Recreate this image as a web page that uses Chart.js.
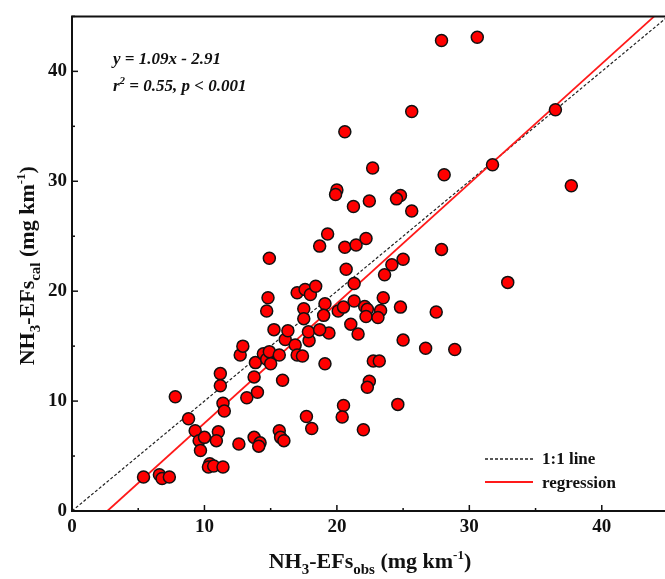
<!DOCTYPE html>
<html>
<head>
<meta charset="utf-8">
<script src="https://cdn.jsdelivr.net/npm/chart.js@4.4.1/dist/chart.umd.min.js"></script>
<style>
  html, body { margin: 0; padding: 0; background: #fff; overflow: hidden; }
  #wrap { position: relative; width: 680px; height: 579px; }
</style>
</head>
<body>
<div id="wrap"><canvas id="c"></canvas></div>
<script>
// ---- data ----
const obsValues = [
  5.4, 6.6, 6.8, 7.35, 7.8, 8.8, 9.3, 9.6, 10.0, 9.7,
  11.05, 10.9, 10.4, 10.3, 10.7, 11.4, 11.2, 11.2, 11.4, 11.5,
  12.6, 12.7, 12.9, 13.2, 13.75, 14.0, 13.85, 13.75, 14.2, 14.1,
  14.45, 14.7, 14.9, 15.0, 14.8, 14.7, 14.9, 15.25, 15.65, 15.9,
  15.65, 15.75, 16.0, 16.1, 16.3, 16.85, 17.0, 17.4, 17.0, 17.6,
  18.0, 18.4, 17.5, 17.5, 17.9, 17.85, 17.7, 18.1, 19.1, 19.0,
  19.1, 19.4, 18.7, 18.7, 19.3, 20.6, 21.45, 22.2, 20.7, 21.3,
  20.0, 19.9, 21.25, 22.45, 20.6, 22.7, 20.1, 20.5, 21.3, 22.1,
  22.3, 22.2, 23.3, 23.5, 23.1, 24.8, 27.5, 21.05, 21.6, 25.0,
  26.7, 28.9, 22.75, 23.2, 22.45, 22.3, 20.5, 20.4, 22.0, 24.6,
  23.6, 24.15, 25.0, 27.9, 27.9, 30.6, 25.65, 36.5, 31.75, 28.1,
  37.7, 24.8, 24.5, 25.65, 32.9
];
const calValues = [
  3.1, 3.3, 2.95, 3.1, 10.4, 8.4, 7.3, 6.4, 6.7, 5.5,
  7.2, 6.4, 4.3, 4.0, 4.1, 4.0, 12.5, 11.4, 9.8, 9.1,
  6.1, 14.2, 15.0, 10.3, 12.2, 10.8, 13.5, 6.7, 6.2, 5.9,
  14.3, 13.8, 14.5, 13.4, 19.4, 18.2, 23.0, 16.5, 14.2, 11.9,
  7.3, 6.7, 6.4, 15.6, 16.4, 15.1, 14.2, 14.1, 19.85, 20.15,
  19.7, 20.45, 18.4, 17.5, 15.5, 16.3, 8.6, 7.5, 18.85, 17.8,
  13.4, 16.2, 16.5, 24.1, 25.2, 24.0, 24.2, 24.8, 22.0, 20.7,
  29.2, 28.8, 27.7, 28.2, 34.5, 31.2, 18.2, 18.55, 19.1, 18.6,
  18.35, 17.7, 18.25, 19.4, 17.6, 18.55, 18.1, 17.0, 16.1, 15.55,
  14.8, 14.7, 13.65, 13.65, 11.8, 11.25, 9.6, 8.55, 7.4, 9.7,
  21.5, 22.4, 22.9, 23.8, 42.8, 43.1, 36.35, 36.5, 31.5, 30.6,
  29.6, 28.7, 28.4, 27.3, 20.8
];
const regSlope = 1.09;
const regIntercept = -2.91;
const axisMin = 0;
const axisMax = 45;
const tickStep = 5;
const labelStep = 10;
const legendLabels = ['1:1 line', 'regression'];
const eqLine1 = 'y = 1.09x - 2.91';

// ---- build datasets ----
const points = obsValues.map((x, i) => ({ x: x, y: calValues[i] }));
const oneToOne = [{ x: axisMin, y: axisMin }, { x: axisMax, y: axisMax }];
const regLine = [
  { x: (axisMin - regIntercept) / regSlope, y: axisMin },
  { x: (axisMax - regIntercept) / regSlope, y: axisMax }
];

const SERIF = '"Liberation Serif", "Times New Roman", serif';
const INK = '#111';

function drawRich(ctx, parts, x, y, align) {
  let total = 0;
  parts.forEach(p => { ctx.font = p.font; p.w = ctx.measureText(p.t).width; total += p.w; });
  let cx = align === 'center' ? x - total / 2 : x;
  parts.forEach(p => {
    ctx.font = p.font;
    ctx.fillText(p.t, cx, y + (p.dy || 0));
    cx += p.w;
  });
}

const decor = {
  id: 'decor',
  afterDraw(chart) {
    const ctx = chart.ctx;
    const a = chart.chartArea;
    const xs = chart.scales.x, ys = chart.scales.y;
    ctx.save();
    // frame
    ctx.strokeStyle = INK;
    ctx.lineWidth = 2;
    ctx.beginPath();
    ctx.moveTo(a.left, a.top); ctx.lineTo(a.right, a.top);
    ctx.lineTo(a.right, a.bottom); ctx.lineTo(a.left, a.bottom);
    ctx.closePath();
    ctx.stroke();
    // inward ticks
    ctx.lineWidth = 1.5;
    for (let v = axisMin; v <= axisMax; v += tickStep) {
      const len = v % labelStep === 0 ? 6 : 3;
      const px = xs.getPixelForValue(v);
      ctx.beginPath(); ctx.moveTo(px, a.bottom); ctx.lineTo(px, a.bottom - len); ctx.stroke();
      const py = ys.getPixelForValue(v);
      ctx.beginPath(); ctx.moveTo(a.left, py); ctx.lineTo(a.left + len, py); ctx.stroke();
    }
    ctx.fillStyle = INK;
    ctx.textBaseline = 'alphabetic';
    ctx.textAlign = 'left';
    // x title
    const mf = 'bold 22px ' + SERIF, sf = 'bold 15px ' + SERIF, pf = 'bold 13px ' + SERIF;
    const cxm = (a.left + a.right) / 2;
    drawRich(ctx, [
      { t: 'NH', font: mf }, { t: '3', font: sf, dy: 6 }, { t: '-EFs', font: mf },
      { t: 'obs', font: sf, dy: 6 }, { t: ' (mg km', font: mf }, { t: '-1', font: pf, dy: -9 },
      { t: ')', font: mf }
    ], cxm, 568, 'center');
    // y title
    ctx.save();
    ctx.translate(34, (a.top + a.bottom) / 2 + 2);
    ctx.rotate(-Math.PI / 2);
    drawRich(ctx, [
      { t: 'NH', font: mf }, { t: '3', font: sf, dy: 6 }, { t: '-EFs', font: mf },
      { t: 'cal', font: sf, dy: 6 }, { t: ' (mg km', font: mf }, { t: '-1', font: pf, dy: -9 },
      { t: ')', font: mf }
    ], 0, 0, 'center');
    ctx.restore();
    // equation annotation
    const ef = 'italic bold 17px ' + SERIF, esf = 'italic bold 11px ' + SERIF;
    drawRich(ctx, [{ t: eqLine1, font: ef }], 113, 64, 'left');
    drawRich(ctx, [
      { t: 'r', font: ef }, { t: '2', font: esf, dy: -7 }, { t: ' = 0.55, p < 0.001', font: ef }
    ], 113, 91, 'left');
    // legend
    const lf = 'bold 17px ' + SERIF;
    ctx.strokeStyle = '#222';
    ctx.lineWidth = 1.3;
    ctx.setLineDash([3, 2]);
    ctx.beginPath(); ctx.moveTo(485, 459); ctx.lineTo(533, 459); ctx.stroke();
    ctx.setLineDash([]);
    ctx.strokeStyle = '#ff1a1a';
    ctx.lineWidth = 2;
    ctx.beginPath(); ctx.moveTo(485, 482); ctx.lineTo(533, 482); ctx.stroke();
    ctx.font = lf;
    ctx.fillText(legendLabels[0], 542, 464);
    ctx.fillText(legendLabels[1], 542, 488);
    ctx.restore();
  }
};

const tickFont = { family: SERIF, size: 19, weight: 'bold' };

new Chart(document.getElementById('c'), {
  type: 'scatter',
  data: {
    datasets: [
      {
        label: 'data', data: points, order: 0,
        backgroundColor: '#ff0000', borderColor: '#111', borderWidth: 1.5,
        pointRadius: 6, pointHoverRadius: 6
      },
      {
        label: legendLabels[0], data: oneToOne, type: 'line', order: 2,
        borderColor: '#222', borderWidth: 1.2, borderDash: [3, 2],
        pointRadius: 0, fill: false
      },
      {
        label: legendLabels[1], data: regLine, type: 'line', order: 1,
        borderColor: '#ff1a1a', borderWidth: 1.8,
        pointRadius: 0, fill: false
      }
    ]
  },
  options: {
    responsive: true,
    maintainAspectRatio: false,
    animation: false,
    events: [],
    layout: { padding: { top: 13, right: 12, left: 0, bottom: 0 } },
    plugins: { legend: { display: false }, tooltip: { enabled: false } },
    scales: {
      x: {
        type: 'linear', min: axisMin, max: axisMax,
        grid: { display: false, drawTicks: false },
        border: { display: false },
        ticks: {
          stepSize: tickStep, autoSkip: false, maxRotation: 0, padding: 5,
          color: INK, font: tickFont,
          callback: v => (v % labelStep === 0 ? String(v) : '')
        },
        afterFit: s => { s.height = 68; }
      },
      y: {
        type: 'linear', min: axisMin, max: axisMax,
        grid: { display: false, drawTicks: false },
        border: { display: false },
        ticks: {
          stepSize: tickStep, autoSkip: false, padding: 5,
          color: INK, font: tickFont,
          callback: v => (v % labelStep === 0 ? String(v) : '')
        },
        afterFit: s => { s.width = 72; }
      }
    }
  },
  plugins: [decor]
});
</script>
</body>
</html>
